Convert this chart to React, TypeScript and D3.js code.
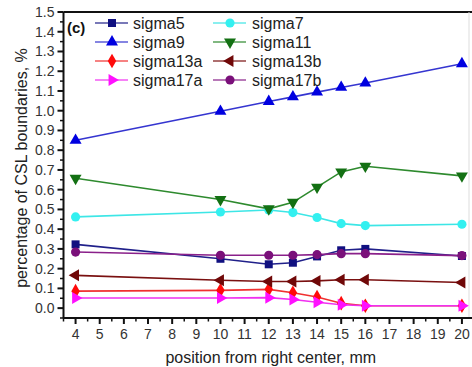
import { useEffect, useRef } from 'react';
import * as d3 from 'd3';

const positions = [4, 10, 12, 13, 14, 15, 16, 20];

const sigma5 = [0.323, 0.25, 0.222, 0.23, 0.262, 0.293, 0.3, 0.264];
const sigma7 = [0.462, 0.487, 0.497, 0.484, 0.459, 0.428, 0.418, 0.425];
const sigma9 = [0.85, 0.997, 1.047, 1.07, 1.094, 1.118, 1.14, 1.238];
const sigma11 = [0.658, 0.55, 0.503, 0.536, 0.613, 0.69, 0.719, 0.67];
const sigma13a = [0.086, 0.09, 0.095, 0.078, 0.056, 0.025, 0.012, 0.012];
const sigma13b = [0.166, 0.141, 0.135, 0.135, 0.138, 0.144, 0.144, 0.13];
const sigma17a = [0.051, 0.051, 0.053, 0.044, 0.03, 0.017, 0.012, 0.012];
const sigma17b = [0.284, 0.268, 0.268, 0.268, 0.271, 0.276, 0.276, 0.266];

const xTicks = d3.range(4, 21);
const yTicks = d3.range(0, 16).map(i => i / 10);

interface Series {
    name: string;
    values: number[];
    line: string;
    fill: string;
    shape: 'square' | 'circle' | 'up' | 'down' | 'left' | 'right' | 'diamond';
}

// legend order: two columns, row by row
const series: Series[] = [
    { name: 'sigma5', values: sigma5, line: '#20208a', fill: '#101080', shape: 'square' },
    { name: 'sigma7', values: sigma7, line: '#3de6e6', fill: '#33f0f0', shape: 'circle' },
    { name: 'sigma9', values: sigma9, line: '#3535d0', fill: '#0000e0', shape: 'up' },
    { name: 'sigma11', values: sigma11, line: '#2e8a2e', fill: '#137013', shape: 'down' },
    { name: 'sigma13a', values: sigma13a, line: '#f03030', fill: '#ff0a0a', shape: 'diamond' },
    { name: 'sigma13b', values: sigma13b, line: '#7a1010', fill: '#700808', shape: 'left' },
    { name: 'sigma17a', values: sigma17a, line: '#f030f0', fill: '#ff10ff', shape: 'right' },
    { name: 'sigma17b', values: sigma17b, line: '#8a208a', fill: '#7a107a', shape: 'circle' },
];

function markerPath(shape: Series['shape']) {
    switch (shape) {
        case 'square': return { d: d3.symbol(d3.symbolSquare, 64)()!, rot: 0 };
        case 'circle': return { d: d3.symbol(d3.symbolCircle, 66)()!, rot: 0 };
        case 'diamond': return { d: d3.symbol(d3.symbolDiamond, 62)()!, rot: 0 };
        case 'up': return { d: d3.symbol(d3.symbolTriangle, 62)()!, rot: 0 };
        case 'down': return { d: d3.symbol(d3.symbolTriangle, 62)()!, rot: 180 };
        case 'left': return { d: d3.symbol(d3.symbolTriangle, 62)()!, rot: -90 };
        case 'right': return { d: d3.symbol(d3.symbolTriangle, 62)()!, rot: 90 };
    }
}

export default function App() {
    const ref = useRef<SVGSVGElement>(null);

    useEffect(() => {
        if (!ref.current) return;
        const svg = d3.select(ref.current);
        svg.selectAll('*').remove();

        const width = 472;
        const height = 367;
        const left = 63.5, right = 474, top = 12, bottom = 318;
        const font = 'Liberation Sans, Arial, sans-serif';

        svg.attr('width', width).attr('height', height);
        svg.append('rect').attr('width', width).attr('height', height).attr('fill', '#fff');

        const x = d3.scaleLinear().domain([3.5, 20.5]).range([left, right]);
        const y = d3.scaleLinear().domain([-0.05, 1.5]).range([bottom, top]);

        // frame (right edge is cut off in the original, only a faint trace)
        svg.append('line')
            .attr('x1', left).attr('x2', right)
            .attr('y1', top).attr('y2', top)
            .attr('stroke', '#111').attr('stroke-width', 2);
        svg.append('line')
            .attr('x1', 469).attr('x2', 469)
            .attr('y1', top).attr('y2', bottom)
            .attr('stroke', '#ddd').attr('stroke-width', 1);

        // Y axis
        const yAxis = svg.append('g').attr('transform', `translate(${left},0)`);
        yAxis.append('line')
            .attr('x1', 0).attr('x2', 0).attr('y1', top).attr('y2', bottom)
            .attr('stroke', '#111').attr('stroke-width', 2);
        yAxis.selectAll('.ymaj').data(yTicks).enter().append('line')
            .attr('x1', -6).attr('x2', 0)
            .attr('y1', d => y(d)).attr('y2', d => y(d))
            .attr('stroke', '#111').attr('stroke-width', 2);
        yAxis.selectAll('.ymin').data(yTicks.map(d => d - 0.05)).enter().append('line')
            .attr('x1', -3.5).attr('x2', 0)
            .attr('y1', d => y(d)).attr('y2', d => y(d))
            .attr('stroke', '#111').attr('stroke-width', 1.5);
        yAxis.selectAll('text').data(yTicks).enter().append('text')
            .attr('x', -9).attr('y', d => y(d))
            .attr('dy', '0.35em')
            .attr('text-anchor', 'end')
            .attr('font-family', font).attr('font-size', 14)
            .attr('fill', '#333')
            .text(d => d.toFixed(1));

        // X axis
        const xAxis = svg.append('g').attr('transform', `translate(0,${bottom})`);
        xAxis.append('line')
            .attr('x1', left).attr('x2', right).attr('y1', 0).attr('y2', 0)
            .attr('stroke', '#111').attr('stroke-width', 2);
        xAxis.selectAll('.xmaj').data(xTicks).enter().append('line')
            .attr('x1', d => x(d)).attr('x2', d => x(d))
            .attr('y1', 0).attr('y2', 6)
            .attr('stroke', '#111').attr('stroke-width', 2);
        xAxis.selectAll('.xmin').data(xTicks.map(d => d - 0.5).concat([20.5])).enter().append('line')
            .attr('x1', d => x(d)).attr('x2', d => x(d))
            .attr('y1', 0).attr('y2', 3.5)
            .attr('stroke', '#111').attr('stroke-width', 1.5);
        xAxis.selectAll('text').data(xTicks).enter().append('text')
            .attr('x', d => x(d)).attr('y', 21)
            .attr('text-anchor', 'middle')
            .attr('font-family', font).attr('font-size', 14)
            .attr('fill', '#333')
            .text(d => d);

        // axis titles
        svg.append('text')
            .attr('x', (left + right) / 2 + 2).attr('y', 363)
            .attr('text-anchor', 'middle')
            .attr('font-family', font).attr('font-size', 16)
            .attr('fill', '#222')
            .text('position from right center, mm');
        svg.append('text')
            .attr('transform', `translate(27,${(top + bottom) / 2 + 3}) rotate(-90)`)
            .attr('text-anchor', 'middle')
            .attr('font-family', font).attr('font-size', 16)
            .attr('fill', '#222')
            .text('percentage of CSL boundaries, %');

        svg.append('text')
            .attr('x', 67).attr('y', 33)
            .attr('font-family', font).attr('font-size', 15).attr('font-weight', 'bold')
            .attr('fill', '#111')
            .text('(c)');

        // Lines and markers
        const line = d3.line<number>()
            .x((_, i) => x(positions[i]))
            .y(d => y(d));

        series.forEach(s => {
            svg.append('path')
                .datum(s.values)
                .attr('fill', 'none')
                .attr('stroke', s.line)
                .attr('stroke-width', 1.6)
                .attr('d', line);
        });
        series.forEach(s => {
            const m = markerPath(s.shape);
            svg.selectAll(null).data(s.values).enter().append('path')
                .attr('d', m.d)
                .attr('transform', (d, i) => `translate(${x(positions[i])},${y(d)}) rotate(${m.rot})`)
                .attr('fill', s.fill);
        });

        // Legend
        const cols = [{ lx: 95, tx: 133 }, { lx: 213, tx: 252 }];
        series.forEach((s, i) => {
            const c = cols[i % 2];
            const ly = 23 + Math.floor(i / 2) * 19;
            const g = svg.append('g');
            g.append('line')
                .attr('x1', c.lx).attr('x2', c.lx + 33)
                .attr('y1', ly).attr('y2', ly)
                .attr('stroke', s.line).attr('stroke-width', 1.4).attr('opacity', 0.8);
            const m = markerPath(s.shape);
            g.append('path')
                .attr('d', m.d)
                .attr('transform', `translate(${c.lx + 17},${ly}) rotate(${m.rot})`)
                .attr('fill', s.fill);
            g.append('text')
                .attr('x', c.tx).attr('y', ly)
                .attr('dy', '0.35em')
                .attr('font-family', font).attr('font-size', 16)
                .attr('fill', '#222')
                .text(s.name);
        });
    }, []);

    return (
        <div style={{ position: 'absolute', left: 0, top: 0 }}>
            <svg ref={ref} style={{ display: 'block' }} />
        </div>
    );
}
